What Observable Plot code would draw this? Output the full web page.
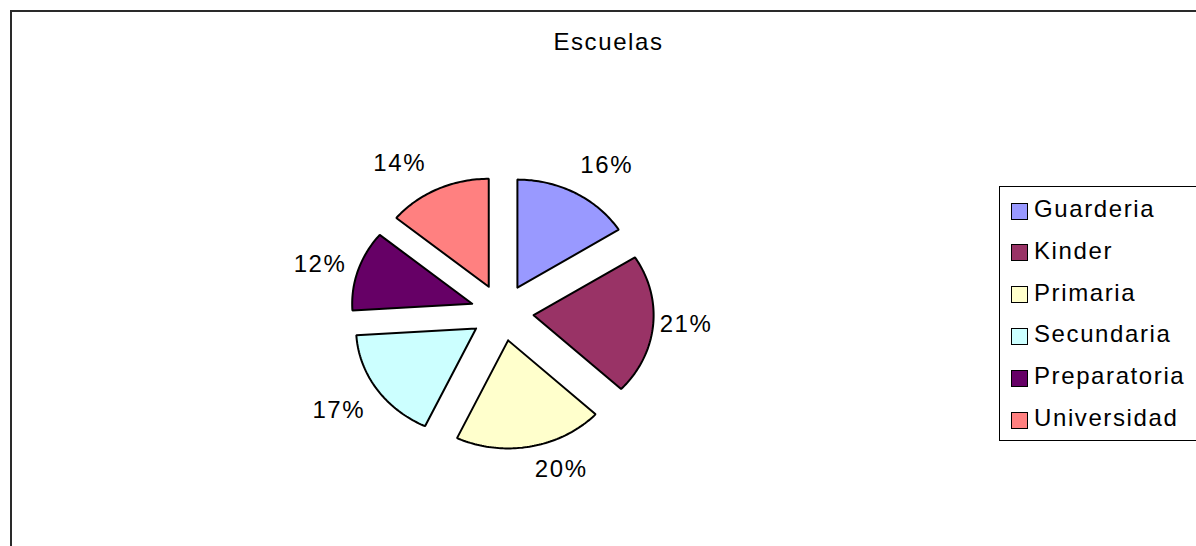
<!DOCTYPE html>
<html>
<head>
<meta charset="utf-8">
<script src="https://cdn.jsdelivr.net/npm/d3@7"></script>
<script src="https://cdn.jsdelivr.net/npm/@observablehq/plot@0.6"></script>
<style>
  html, body { margin: 0; padding: 0; background: #fff; }
  #wrap { position: relative; width: 1196px; height: 546px; overflow: hidden; font-family: "Liberation Sans", Arial, sans-serif; }
  #frame { position: absolute; left: 10px; top: 10px; width: 1200px; height: 560px; border: 2px solid #2a2a2a; box-sizing: border-box; }
  #chart { position: absolute; left: 0; top: 0; }
  #legend { position: absolute; left: 999px; top: 186px; width: 210px; height: 255px; border: 1px solid #000; box-sizing: border-box; background: #fff; }
  .row { position: absolute; left: 0; height: 26px; display: flex; align-items: center; }
  .sw { width: 17px; height: 17px; border: 1px solid #000; box-sizing: border-box; margin-left: 11px; margin-right: 6px; margin-top: 4px; }
  .lab { font-size: 24px; letter-spacing: 1.6px; color: #000; }
</style>
</head>
<body>
<div id="wrap">
  <div id="frame"></div>
  <div id="chart"></div>
  <div id="legend"></div>
</div>
<script>
const title = "Escuelas";
const categories = ["Guarderia", "Kinder", "Primaria", "Secundaria", "Preparatoria", "Universidad"];
const values = [16, 21, 20, 17, 12, 14];
const labels = ["16%", "21%", "20%", "17%", "12%", "14%"];
const colors = ["#9999FF", "#993366", "#FFFFCC", "#CCFFFF", "#660066", "#FF8080"];

// layout (pixels)
const W = 1196, H = 546;
const cx = 501.7, cy = 312, rx = 120, ry = 108;
const explode = 0.263;

const pie = d3.pie().sort(null).value(d => d.value)(categories.map((c, i) => ({cat: c, value: values[i], label: labels[i]})));

// slice polygons in unit-radius coordinates (u right, v up)
const slicePts = [];
const labelPts = [];
pie.forEach(p => {
  const a0 = p.startAngle, a1 = p.endAngle, am = (a0 + a1) / 2;
  const ox = explode * Math.sin(am), oy = explode * Math.cos(am);
  const cat = p.data.cat;
  slicePts.push({cat, u: ox, v: oy});
  const n = Math.max(8, Math.ceil((a1 - a0) / 0.02));
  for (let k = 0; k <= n; k++) {
    const a = a0 + (a1 - a0) * k / n;
    slicePts.push({cat, u: ox + Math.sin(a), v: oy + Math.cos(a)});
  }
  slicePts.push({cat, u: ox, v: oy});
  // label: outside the arc midpoint
  const dx = Math.sin(am), dy = Math.cos(am);
  const mu = ox + dx, mv = oy + dy;
  const offX = dx >= 0 ? 30 + 3 * dx : -38;
  const offY = dx >= 0 ? 4 + 27 * dy : -3.6 + 32 * dy;
  labelPts.push({label: p.data.label, u: mu + offX / rx, v: mv + offY / ry});
});

const chart = Plot.plot({
  width: W, height: H,
  marginTop: 0, marginBottom: 0, marginLeft: 0, marginRight: 0,
  x: {domain: [-cx / rx, (W - cx) / rx], range: [0, W], axis: null},
  y: {domain: [-(H - cy) / ry, cy / ry], range: [H, 0], axis: null},
  color: {domain: categories, range: colors},
  style: {fontFamily: "'Liberation Sans', Arial, sans-serif", background: "transparent", overflow: "visible"},
  marks: [
    Plot.line(slicePts, {x: "u", y: "v", z: "cat", fill: "cat", stroke: "#000", strokeWidth: 2, strokeLinejoin: "miter", curve: "linear"}),
    Plot.text(labelPts, {x: "u", y: "v", text: "label", fontSize: 24, fill: "#000", textAnchor: "middle", lineAnchor: "middle"}),
    Plot.text([title], {frameAnchor: "top", text: d => d, dy: 42, dx: 10, fontSize: 24, fill: "#000", lineAnchor: "middle"})
  ]
});
chart.querySelectorAll("text").forEach(t => t.setAttribute("letter-spacing", "1.6"));
document.getElementById("chart").appendChild(chart);

const colorScale = chart.scale("color");
const legend = document.getElementById("legend");
categories.forEach((c, i) => {
  const row = document.createElement("div");
  row.className = "row";
  row.style.top = (9 + i * 41.8) + "px";
  const sw = document.createElement("div");
  sw.className = "sw";
  sw.style.background = colorScale.apply(c);
  const lab = document.createElement("span");
  lab.className = "lab";
  lab.textContent = c;
  row.appendChild(sw);
  row.appendChild(lab);
  legend.appendChild(row);
});
</script>
</body>
</html>
